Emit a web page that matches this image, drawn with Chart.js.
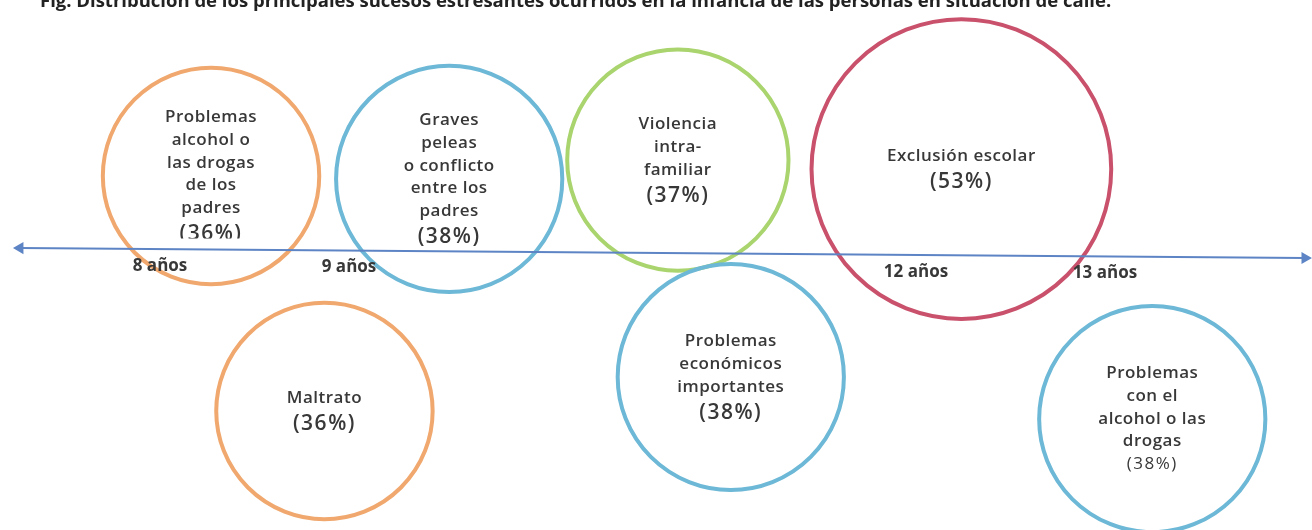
<!DOCTYPE html>
<html lang="es">
<head>
<meta charset="utf-8">
<title>Sucesos estresantes en la infancia</title>
<script src="https://cdn.jsdelivr.net/npm/chart.js@4.4.1/dist/chart.umd.min.js"></script>
<style>
  html, body { margin: 0; padding: 0; background: #fff; overflow: hidden; }
</style>
</head>
<body>
<canvas id="chart-sucesos" width="1312" height="530"></canvas>
<script>
const TITULO = 'Fig. Distribución de los principales sucesos estresantes ocurridos en la infancia de las personas en situación de calle.';

// ─── Datos ─────────────────────────────────────────────────────────────────
// Texto de cada suceso (por líneas) y % de personas que lo vivieron
const sucesos = [
  ['Problemas', 'alcohol o', 'las drogas', 'de los', 'padres'],
  ['Graves', 'peleas', 'o conflicto', 'entre los', 'padres'],
  ['Violencia', 'intra-', 'familiar'],
  ['Exclusión escolar'],
  ['Maltrato'],
  ['Problemas', 'económicos', 'importantes'],
  ['Problemas', 'con el', 'alcohol o las', 'drogas'],
];
const porcentajes = [36, 38, 37, 53, 36, 38, 38];
// edad (años) en la línea de tiempo y lado (+ arriba / - abajo)
const edades  = [8.27, 9.53, 10.74, 12.24, 8.87, 11.02, 13.25];
const niveles = [0.335, 0.322, 0.404, 0.365, -0.687, -0.539, -0.722];

// Línea de tiempo
const edadesEje    = [8, 9, 12, 13];
const etiquetasEje = ['8 años', '9 años', '12 años', '13 años'];
const ejeInicio = { x: 7.259, y: 0.0213 };
const ejeFin    = { x: 14.058, y: -0.0217 };

const COLORS = ['#f0a86e', '#6cb8d6', '#a9d46e', '#c9516b', '#f0a86e', '#6cb8d6', '#6cb8d6'];
const TEXTO = '#383838';
const FUENTE = '"Open Sans", "DejaVu Sans", sans-serif';

// y del eje (px) para una x (px) dada
function ejePixelY(chart, px) {
  const pts = chart.getDatasetMeta(0).data;
  const a = pts[0], b = pts[1];
  return a.y + (b.y - a.y) * (px - a.x) / (b.x - a.x);
}

const textosPlugin = {
  id: 'textosSucesos',
  afterDatasetsDraw(chart, args, opts) {
    const { ctx } = chart;
    const meta = chart.getDatasetMeta(1);
    ctx.save();
    ctx.fillStyle = TEXTO;
    ctx.textAlign = 'center';
    ctx.textBaseline = 'middle';

    meta.data.forEach((el, i) => {
      const lineas = sucesos[i];
      const simple = i === opts.pctSimple;
      const paso = 22.7;
      const pasoPct = simple ? 23 : 26;
      const alto = (lineas.length - 1) * paso + pasoPct;
      let yy = el.y - alto / 2;

      ctx.save();
      if (i === opts.recorte) {
        ctx.beginPath();
        ctx.rect(0, 0, chart.width, ejePixelY(chart, el.x) - 11);
        ctx.clip();
      }
      ctx.font = `600 17px ${FUENTE}`;
      ctx.letterSpacing = '0.5px';
      lineas.forEach(l => { ctx.fillText(l, el.x, yy); yy += paso; });
      yy += pasoPct - paso;
      ctx.font = simple ? `17px ${FUENTE}` : `600 21px ${FUENTE}`;
      ctx.letterSpacing = '1.5px';
      ctx.fillText(`(${porcentajes[i]}%)`, el.x, yy);
      ctx.restore();
    });

    // etiquetas de edad bajo la línea de tiempo
    const x = chart.scales.x;
    ctx.font = `bold 17px ${FUENTE}`;
    ctx.letterSpacing = '0px';
    edadesEje.forEach((e, i) => {
      const px = x.getPixelForValue(e);
      ctx.fillText(etiquetasEje[i], px, ejePixelY(chart, px) + 17);
    });

    // título (cortado en el borde superior, como en el original)
    ctx.textAlign = 'left';
    ctx.textBaseline = 'alphabetic';
    ctx.font = 'bold 18.5px "Open Sans", sans-serif';
    ctx.fillStyle = '#222';
    ctx.fillText(TITULO, 40, 7);
    ctx.restore();
  },
};

new Chart(document.getElementById('chart-sucesos'), {
  data: {
    datasets: [
      {
        type: 'line',
        label: 'Edad',
        data: [ejeInicio, ejeFin],
        borderColor: '#5d84c4',
        backgroundColor: '#5d84c4',
        borderWidth: 2,
        pointStyle: 'triangle',
        pointRadius: 7,
        pointRotation: [-90, 90],
        pointBorderWidth: 0,
        clip: false,
      },
      {
        type: 'bubble',
        label: 'Sucesos',
        // radio del círculo en función del %
        data: edades.map((e, i) => ({ x: e, y: niveles[i], r: 20 + 2.45 * porcentajes[i] })),
        backgroundColor: 'rgba(0,0,0,0)',
        borderColor: COLORS,
        borderWidth: 4,
        clip: false,
      },
    ],
  },
  options: {
    responsive: false,
    animation: false,
    events: [],
    layout: { padding: 0, autoPadding: false },
    plugins: {
      legend: { display: false },
      tooltip: { enabled: false },
      textosSucesos: { recorte: 0, pctSimple: 6 },
    },
    scales: {
      x: { type: 'linear', display: false, min: 7.1534, max: 14.0952 },
      y: { type: 'linear', display: false, min: -1.2043, max: 1.1 },
    },
  },
  plugins: [textosPlugin],
});
</script>
</body>
</html>
